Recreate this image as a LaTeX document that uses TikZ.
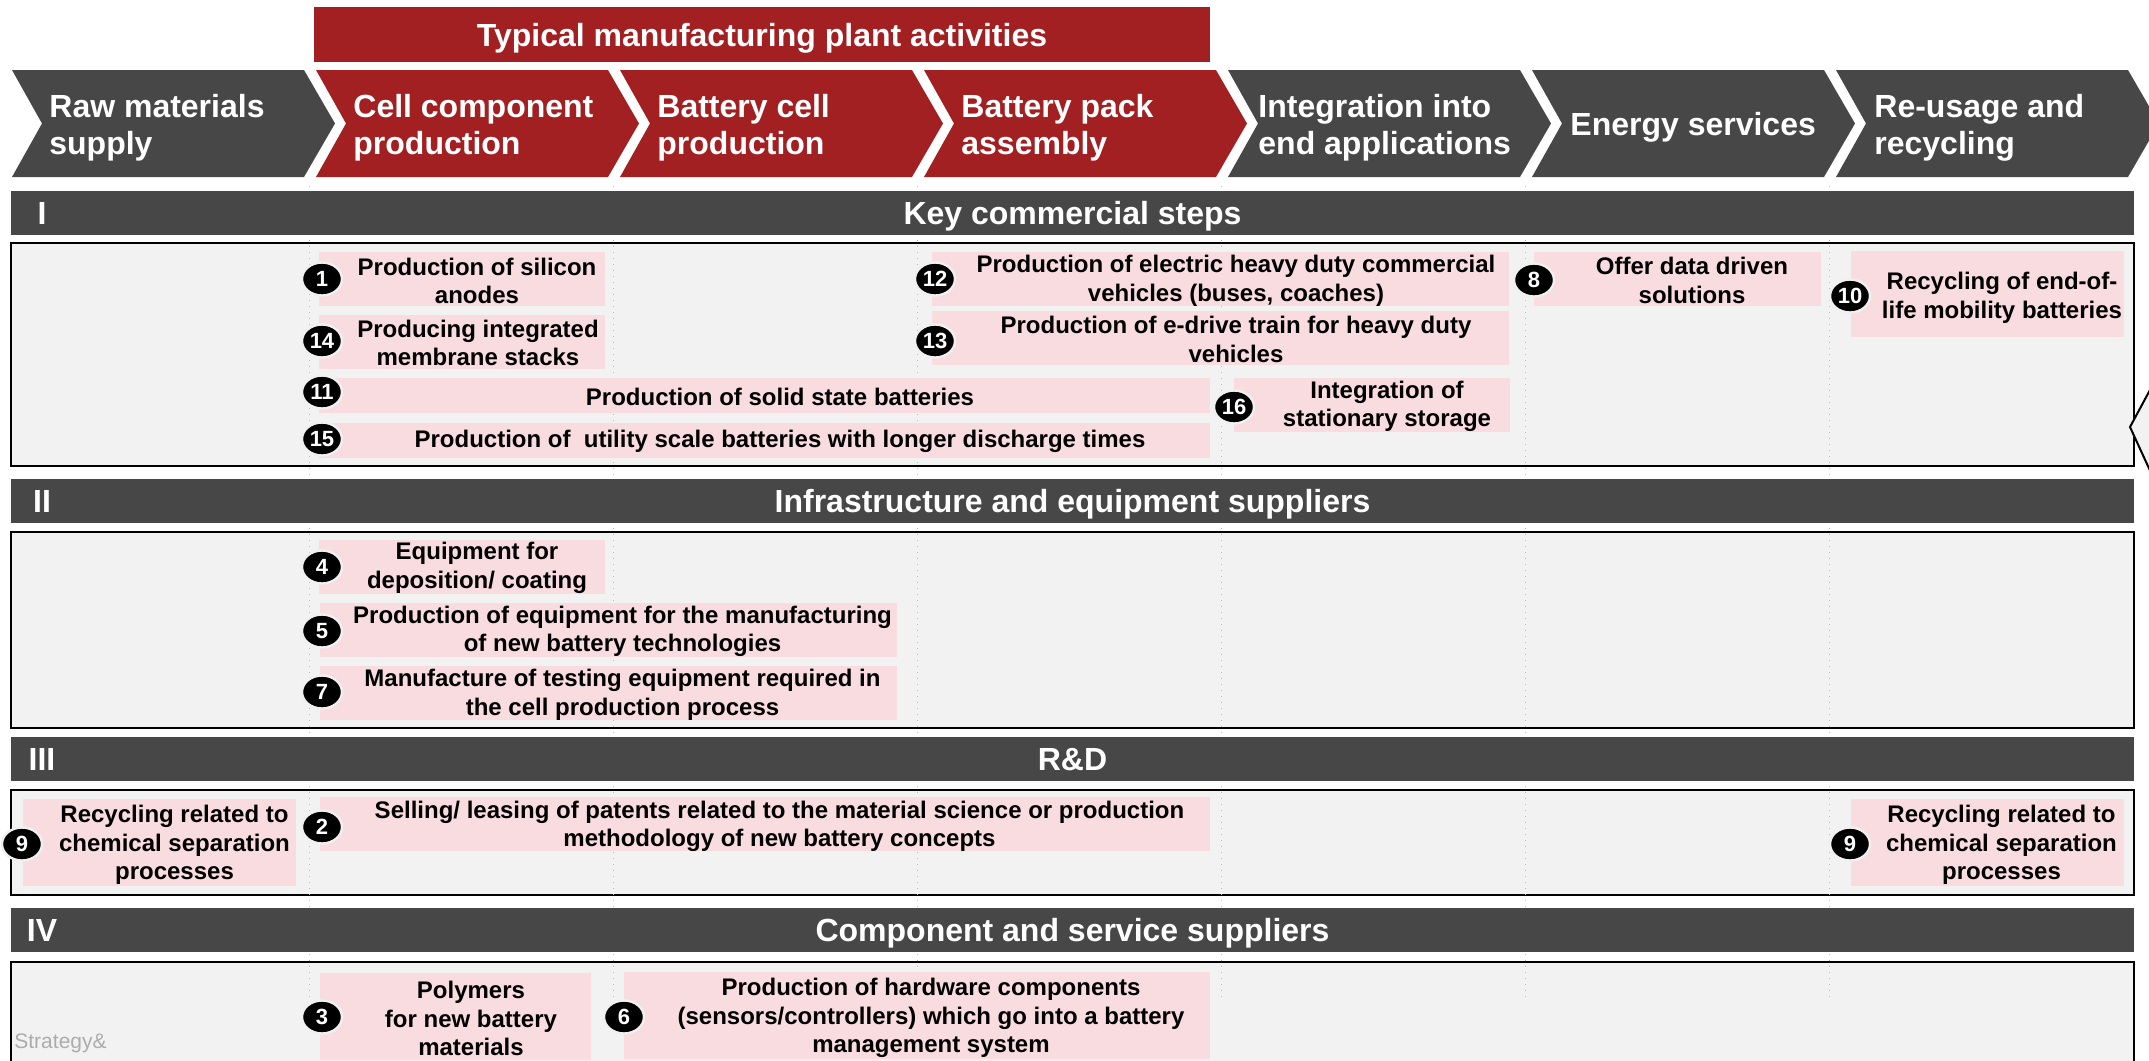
\documentclass[tikz,border=0pt]{standalone}
\usepackage{fontspec}
\setmainfont{Liberation Sans}
\usepackage{tikz}
\usetikzlibrary{shapes}

\definecolor{plantred}{HTML}{A21F22}
\definecolor{bargrey}{HTML}{474747}
\definecolor{panelgrey}{HTML}{F2F2F2}
\definecolor{itempink}{HTML}{F8DCE0}

\begin{document}
\begin{tikzpicture}[x=0.5pt, y=-0.5pt]
    \tikzstyle{every node}=[inner sep=0, font=\bfseries]
    \tikzstyle{greystep} = [fill=bargrey]
    \tikzstyle{redstep} = [fill=plantred]
    \tikzstyle{steptext} = [text=white, align=left, anchor=west,
				font=\bfseries\fontsize{16}{18.5}\selectfont]
    \tikzstyle{banner} = [fill=plantred, text=white, minimum width=448pt, minimum height=27.5pt,
				text height=13pt, text depth=1.5pt,
				font=\bfseries\fontsize{16}{19}\selectfont]
    \tikzstyle{bar} = [fill=bargrey, text=white, minimum width=1061.5pt, minimum height=22pt,
				text height=13pt, text depth=1.5pt,
				font=\bfseries\fontsize{16}{19}\selectfont]
    \tikzstyle{numeral} = [text=white, text height=13pt, text depth=1.5pt,
				font=\bfseries\fontsize{16}{19}\selectfont]
    % The panels:
    \tikzstyle{panel} = [fill=panelgrey, draw=black, line width=1pt]
    \tikzstyle{sep} = [gray!55, line width=0.5pt, dash pattern=on 0.6pt off 2.4pt]
    % The items:
    \tikzstyle{pinkbox} = [fill=itempink]
    \tikzstyle{txt} = [align=center, font=\bfseries\fontsize{12}{14.25}\selectfont]
    \tikzstyle{num} = [ellipse, fill=black, draw=white!94!black, line width=1.2pt,
				minimum width=20pt, minimum height=16.5pt, text=white,
				font=\bfseries\fontsize{11}{13}\selectfont]

    \useasboundingbox (0,0) rectangle (2149,1061);

    \node[banner] (plant) at (762,34.5) {Typical manufacturing plant activities};

    \fill[greystep] (12,70) -- ++(292,0) -- ++(31,53.5) -- ++(-31,53.5) -- ++(-292,0) -- ++(30,-53.5) -- cycle;
    \fill[redstep] (316,70) -- ++(292,0) -- ++(31,53.5) -- ++(-31,53.5) -- ++(-292,0) -- ++(30,-53.5) -- cycle;
    \fill[redstep] (620,70) -- ++(292,0) -- ++(31,53.5) -- ++(-31,53.5) -- ++(-292,0) -- ++(30,-53.5) -- cycle;
    \fill[redstep] (924,70) -- ++(292,0) -- ++(31,53.5) -- ++(-31,53.5) -- ++(-292,0) -- ++(30,-53.5) -- cycle;
    \fill[greystep] (1228,70) -- ++(292,0) -- ++(31,53.5) -- ++(-31,53.5) -- ++(-292,0) -- ++(30,-53.5) -- cycle;
    \fill[greystep] (1532,70) -- ++(292,0) -- ++(31,53.5) -- ++(-31,53.5) -- ++(-292,0) -- ++(30,-53.5) -- cycle;
    \fill[greystep] (1836,70) -- ++(292,0) -- ++(31,53.5) -- ++(-31,53.5) -- ++(-292,0) -- ++(30,-53.5) -- cycle;
    \node[steptext] (raw) at (49,128) {Raw materials\\supply};
    \node[steptext] (cell) at (353,128) {Cell component\\production};
    \node[steptext] (bcell) at (657,128) {Battery cell\\production};
    \node[steptext] (pack) at (961,128) {Battery pack\\assembly};
    \node[steptext] (integ) at (1258,128) {Integration into\\end applications};
    \node[steptext] (energy) at (1570,127) {Energy services};
    \node[steptext] (reuse) at (1874,128) {Re-usage and\\recycling};

    \draw[panel] (11,243) rectangle (2134,466);
    \draw[panel] (11,532) rectangle (2134,728);
    \draw[panel] (11,790) rectangle (2134,895);
    \draw[panel] (11,962) rectangle (2134,1080);
    \draw[panel] (2158,375) -- (2130,427) -- (2158,488);

    \draw[sep] (309,186) -- (309,1000);
    \draw[sep] (613,186) -- (613,1000);
    \draw[sep] (917,186) -- (917,1000);
    \draw[sep] (1221,186) -- (1221,1000);
    \draw[sep] (1525,186) -- (1525,1000);
    \draw[sep] (1829,186) -- (1829,1000);

    \node[bar] (hI) at (1072.5,213) {Key commercial steps};
    \node[bar] (hII) at (1072.5,501) {Infrastructure and equipment suppliers};
    \node[bar] (hIII) at (1072.5,759) {R\&D};
    \node[bar] (hIV) at (1072.5,930) {Component and service suppliers};
    \node[numeral] (rI) at (42,213) {I};
    \node[numeral] (rII) at (42,501) {II};
    \node[numeral] (rIII) at (42,759) {III};
    \node[numeral] (rIV) at (42,930) {IV};

    % I
    \fill[pinkbox] (319,252) rectangle (605,306);
    \node[txt] (t1) at (477,281) {Production of silicon\\anodes};
    \node[num] (n1) at (322,279) {1};
    \fill[pinkbox] (319,315) rectangle (605,369);
    \node[txt] (t14) at (478,343) {Producing integrated\\membrane stacks};
    \node[num] (n14) at (322,341) {14};
    \fill[pinkbox] (319,378) rectangle (1210,413);
    \node[txt] (t11) at (780,396.5) {Production of solid state batteries};
    \node[num] (n11) at (322,392) {11};
    \fill[pinkbox] (319,423) rectangle (1210,458);
    \node[txt] (t15) at (780,441.5) {Production of\ \ utility scale batteries with longer discharge times};
    \node[num] (n15) at (322,439) {15};
    \fill[pinkbox] (932,252) rectangle (1509,306);
    \node[txt] (t12) at (1236,281) {Production of electric heavy duty commercial\\vehicles (buses, coaches)};
    \node[num] (n12) at (935,279) {12};
    \fill[pinkbox] (932,311) rectangle (1509,365);
    \node[txt] (t13) at (1236,339.5) {Production of e-drive train for heavy duty\\vehicles};
    \node[num] (n13) at (935,341) {13};
    \fill[pinkbox] (1234,378) rectangle (1510,432);
    \node[txt] (t16) at (1387,406.5) {Integration of\\stationary storage};
    \node[num] (n16) at (1234,407) {16};
    \fill[pinkbox] (1534,252) rectangle (1821,306);
    \node[txt] (t8) at (1692,280.5) {Offer data driven\\solutions};
    \node[num] (n8) at (1534,280) {8};
    \fill[pinkbox] (1851,251) rectangle (2124,337);
    \node[txt] (t10) at (2002,298) {Recycling of end-of-\\life mobility batteries};
    \node[num] (n10) at (1850,296) {10};

    % II
    \fill[pinkbox] (319,540) rectangle (605,594);
    \node[txt] (t4) at (477,568) {Equipment for\\deposition/ coating};
    \node[num] (n4) at (322,567) {4};
    \fill[pinkbox] (320,603) rectangle (897,657);
    \node[txt] (t5) at (622.5,631.5) {Production of equipment for the manufacturing\\of new battery technologies};
    \node[num] (n5) at (322,631) {5};
    \fill[pinkbox] (320,666) rectangle (897,720);
    \node[txt] (t7) at (622.5,695) {Manufacture of testing equipment required in\\the cell production process};
    \node[num] (n7) at (322,692) {7};

    % III
    \fill[pinkbox] (23,799) rectangle (296,886);
    \node[txt] (t9a) at (174.5,845) {Recycling related to\\chemical separation\\processes};
    \node[num] (n9a) at (22,844) {9};
    \fill[pinkbox] (320,797) rectangle (1210,851);
    \node[txt] (t2) at (779.5,826.5) {Selling/ leasing of patents related to the material science or production\\methodology of new battery concepts};
    \node[num] (n2) at (322,827) {2};
    \fill[pinkbox] (1851,799) rectangle (2124,886);
    \node[txt] (t9b) at (2001.5,845) {Recycling related to\\chemical separation\\processes};
    \node[num] (n9b) at (1850,844) {9};

    % IV
    \fill[pinkbox] (320,973) rectangle (591,1060);
    \node[txt] (t3) at (471,1018.5) {Polymers\\for new battery\\materials};
    \node[num] (n3) at (322,1017) {3};
    \fill[pinkbox] (624,972) rectangle (1210,1059);
    \node[txt] (t6) at (931,1018) {Production of hardware components\\(sensors/controllers) which go into a battery\\management system};
    \node[num] (n6) at (624,1017) {6};

    \node[anchor=west, text=gray!65, font=\fontsize{10.5}{12}\selectfont] (brand) at (14,1043) {Strategy\&};
\end{tikzpicture}
\end{document}
